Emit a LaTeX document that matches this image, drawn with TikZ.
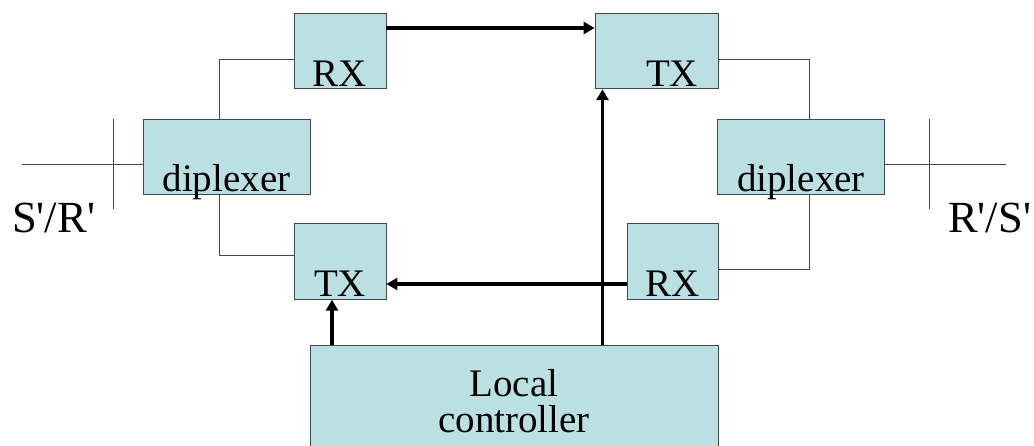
\documentclass[tikz,border=0pt]{standalone}
\usepackage{fontspec}
\setmainfont{Liberation Serif}
\usetikzlibrary{arrows.meta, calc}

\definecolor{boxfill}{RGB}{187,224,227}
\definecolor{boxline}{RGB}{70,70,70}

\begin{document}
\begin{tikzpicture}[
    x=1pt, y=-1pt,
    >={Triangle[length=11pt,width=12pt]},
    % --- Box styles ---
    block/.style={
      draw=boxline, fill=boxfill, line width=0.9pt,
      inner sep=0pt, text depth=2.5pt,
      font=\fontsize{39}{36}\selectfont,
    },
    small block/.style={block, minimum width=92pt, minimum height=75.5pt,
      text height=73pt},
    dip block/.style={block, minimum width=167pt, minimum height=75pt,
      text height=72.5pt},
    ctrl block/.style={
      draw=boxline, fill=boxfill, line width=0.9pt,
      inner sep=0pt, align=center,
      font=\fontsize{39}{36}\selectfont,
    },
    % --- Line styles ---
    wire/.style={draw=boxline, line width=0.9pt},
    flow/.style={->, line width=3.5pt, draw=black},
    port/.style={font=\fontsize{44.5}{44}\selectfont, inner sep=0pt,
      anchor=base west},
  ]

  \clip (0,0) rectangle (1034,446);

  %% ---- Nodes ----

  % Left diplexer and its RX/TX
  \node[dip block] (dip1) at (226.5,156.5) {diplexer};
  \node[small block] (rx1) at (340,51) {RX};
  \node[small block] (tx1) at (340,261.5) {TX};

  % Right diplexer and its TX/RX
  \node[dip block] (dip2) at (801,156.5) {diplexer};
  \node[small block, minimum width=123pt] (tx2) at (656.5,51)
    {\hspace*{31pt}TX};
  \node[small block, minimum width=91pt] (rx2) at (672.5,261.5) {RX};

  % Local controller (runs off the bottom)
  \node[ctrl block, minimum width=408pt, minimum height=113pt] (ctrl)
    at (514,401.5) {Local\\controller};

  % Line ends and port labels
  \coordinate (ant1) at (22,164);
  \coordinate (ant2) at (1006,164);
  \coordinate (tick1a) at (113,119);
  \coordinate (tick1b) at (113,209);
  \coordinate (tick2a) at (929,119);
  \coordinate (tick2b) at (929,209);
  \node[port] (lbl1) at (12,233) {S\textquotesingle/R\textquotesingle};
  \node[port] (lbl2) at (948,233) {R\textquotesingle/S\textquotesingle};

  %% ---- Thin wires ----

  \draw[wire] ([xshift=-7.5pt]dip1.north) |- ([yshift=-8pt]rx1.west);
  \draw[wire] ([xshift=-7.5pt]dip1.south) |- ([yshift=6.5pt]tx1.west);
  \draw[wire] ([yshift=-8pt]tx2.east) -| ([xshift=8pt]dip2.north);
  \draw[wire] ([xshift=8pt]dip2.south) |- ([yshift=-7.5pt]rx2.east);
  \draw[wire] ([yshift=-7.5pt]dip1.west) -- (ant1);
  \draw[wire] ([yshift=-7.5pt]dip2.east) -- (ant2);
  \draw[wire] (tick1a) -- (tick1b);
  \draw[wire] (tick2a) -- (tick2b);

  %% ---- Thick arrows ----

  \draw[flow] ([yshift=23pt]rx1.east) -- ([yshift=23pt]tx2.west);
  \draw[flow] ([yshift=-22.5pt]rx2.west) -- ([yshift=-22.5pt]tx1.east);
  \draw[flow] ([xshift=-182pt]ctrl.north) -- ([xshift=-182pt]ctrl.north |- tx1.south);
  \draw[flow] ([xshift=88.5pt]ctrl.north) -- ([xshift=88.5pt]ctrl.north |- tx2.south);

\end{tikzpicture}
\end{document}
